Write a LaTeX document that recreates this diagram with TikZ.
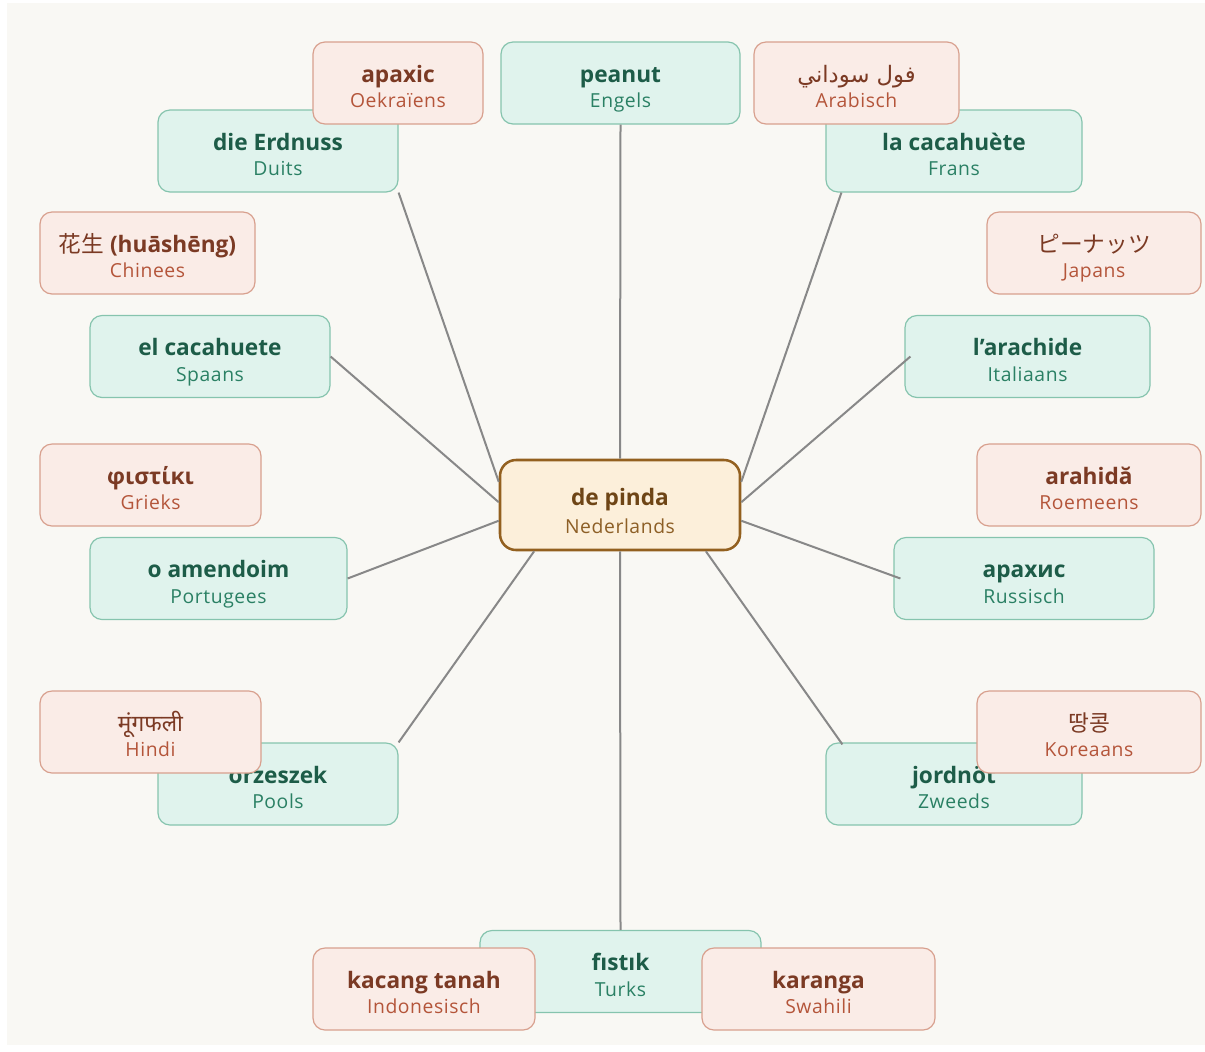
\documentclass[tikz,border=0pt]{standalone}
\usepackage{fontspec}
\setmainfont{Open Sans}
\newfontfamily\subfont[LetterSpace=3]{Open Sans}
\newfontfamily\arabicfont[Script=Arabic]{DejaVu Sans}
\newfontfamily\hindifont[Script=Devanagari]{Noto Sans}
\newfontfamily\zhfont{Noto Sans CJK SC}
\newfontfamily\jafont{Noto Sans CJK JP}
\newfontfamily\kofont{Noto Sans CJK KR}
\TeXXeTstate=1
\usepackage{tikz}
\usetikzlibrary{calc}

\definecolor{pagebg}{HTML}{F9F8F4}
\definecolor{greenfill}{HTML}{E0F3ED}
\definecolor{greenline}{HTML}{86C4AE}
\definecolor{greentext}{HTML}{1D5C48}
\definecolor{greensub}{HTML}{2A8064}
\definecolor{redfill}{HTML}{FAECE7}
\definecolor{redline}{HTML}{D8A08E}
\definecolor{redtext}{HTML}{7B3A24}
\definecolor{redsub}{HTML}{B4553A}
\definecolor{pindafill}{HTML}{FCEFDA}
\definecolor{pindaline}{HTML}{93601F}
\definecolor{pindatext}{HTML}{6E4516}
\definecolor{pindasub}{HTML}{8D5F26}
\definecolor{linkgray}{HTML}{888888}

\newcommand\peanuttop{22pt}
\newcommand\peanutgap{0pt}
\newcommand\peanutword[2]{{\fontsize{17}{19}\selectfont\bfseries\rule{0pt}{\peanuttop}#1}\\[\peanutgap]{\subfont\fontsize{14.5}{19}\selectfont\color{subc}\rule[-4pt]{0pt}{4pt}#2}}

\begin{document}
    \begin{tikzpicture}[x=0.75pt,y=0.75pt,yscale=-1,xscale=1,
        wordbox/.style={rectangle, rounded corners=9pt, line width=0.9pt, align=center, inner sep=0pt,
            minimum height=61.5pt, font=\fontsize{14.5}{19}\selectfont},
        boxw/.style={minimum width=#1*0.75pt},
        greenbox/.style={wordbox, draw=greenline, fill=greenfill, text=greentext,
            execute at begin node={\colorlet{subc}{greensub}}},
        redbox/.style={wordbox, draw=redline, fill=redfill, text=redtext,
            execute at begin node={\colorlet{subc}{redsub}}},
        pindabox/.style={wordbox, draw=pindaline, fill=pindafill, text=pindatext, line width=1.9pt,
            rounded corners=12pt, minimum height=67.5pt, minimum width=180pt,
            execute at begin node={\colorlet{subc}{pindasub}\def\peanuttop{25pt}\def\peanutgap{2pt}}},
        link/.style={draw=linkgray, line width=1.5pt}]
        \useasboundingbox (0,0) rectangle (1205,1051);
        \fill [pagebg] (7,3) rectangle (1205,1045);

        \node [pindabox] (pinda) at (620,505) {\peanutword{de pinda}{Nederlands}};

        \node [greenbox, boxw=239] (engels) at (620.5,83) {\peanutword{peanut}{Engels}};
        \node [greenbox, boxw=240] (duits) at (278,151) {\peanutword{die Erdnuss}{Duits}};
        \node [greenbox, boxw=256] (frans) at (954,151) {\peanutword{la cacahuète}{Frans}};
        \node [greenbox, boxw=240] (spaans) at (210,356.5) {\peanutword{el cacahuete}{Spaans}};
        \node [greenbox, boxw=245] (italiaans) at (1027.5,356.5) {\peanutword{l'arachide}{Italiaans}};
        \node [greenbox, boxw=257] (portugees) at (218.5,578.5) {\peanutword{o amendoim}{Portugees}};
        \node [greenbox, boxw=260] (russisch) at (1024,578.5) {\peanutword{арахис}{Russisch}};
        \node [greenbox, boxw=240] (pools) at (278,784) {\peanutword{orzeszek}{Pools}};
        \node [greenbox, boxw=256] (zweeds) at (954,784) {\peanutword{jordnöt}{Zweeds}};
        \node [greenbox, boxw=281] (turks) at (620.5,971.5) {\peanutword{fıstık}{Turks}};

        \draw [link] (engels.south) -- (pinda.north);
        \draw [link] (duits.south east) -- ($(pinda.north west)!0.25!(pinda.south west)$);
        \draw [link] (spaans.east) -- ($(pinda.north west)!0.47!(pinda.south west)$);
        \draw [link] (portugees.east) -- ($(pinda.north west)!0.67!(pinda.south west)$);
        \draw [link] (pools.north east) -- ($(pinda.south west)!0.146!(pinda.south east)$);
        \draw [link] (turks.north) -- (pinda.south);
        \draw [link] ($(zweeds.north west)+(17,2)$) -- ($(pinda.south west)!0.854!(pinda.south east)$);
        \draw [link] ($(russisch.west)+(7,0)$) -- ($(pinda.north east)!0.67!(pinda.south east)$);
        \draw [link] ($(italiaans.west)+(6,0)$) -- ($(pinda.north east)!0.47!(pinda.south east)$);
        \draw [link] ($(frans.south west)+(16,0)$) -- ($(pinda.north east)!0.25!(pinda.south east)$);

        \node [redbox, boxw=170] (oekraiens) at (398,83) {\peanutword{арахіс}{Oekraïens}};
        \node [redbox, boxw=205] (arabisch) at (856.5,83) {\peanutword{\mdseries\arabicfont\beginR فول سوداني\endR}{Arabisch}};
        \node [redbox, boxw=215] (chinees) at (147.5,253) {\peanutword{{\mdseries\zhfont 花生} (huāshēng)}{Chinees}};
        \node [redbox, boxw=214] (japans) at (1094,253) {\peanutword{\mdseries\jafont ピーナッツ}{Japans}};
        \node [redbox, boxw=221] (grieks) at (150.5,485) {\peanutword{φιστίκι}{Grieks}};
        \node [redbox, boxw=224] (roemeens) at (1089,485) {\peanutword{arahidă}{Roemeens}};
        \node [redbox, boxw=221] (hindi) at (150.5,732) {\peanutword{\mdseries\hindifont मूंगफली}{Hindi}};
        \node [redbox, boxw=224] (koreaans) at (1089,732) {\peanutword{\mdseries\kofont 땅콩}{Koreaans}};
        \node [redbox, boxw=222] (indonesisch) at (424,989) {\peanutword{kacang tanah}{Indonesisch}};
        \node [redbox, boxw=233] (swahili) at (818.5,989) {\peanutword{karanga}{Swahili}};
    \end{tikzpicture}
\end{document}
